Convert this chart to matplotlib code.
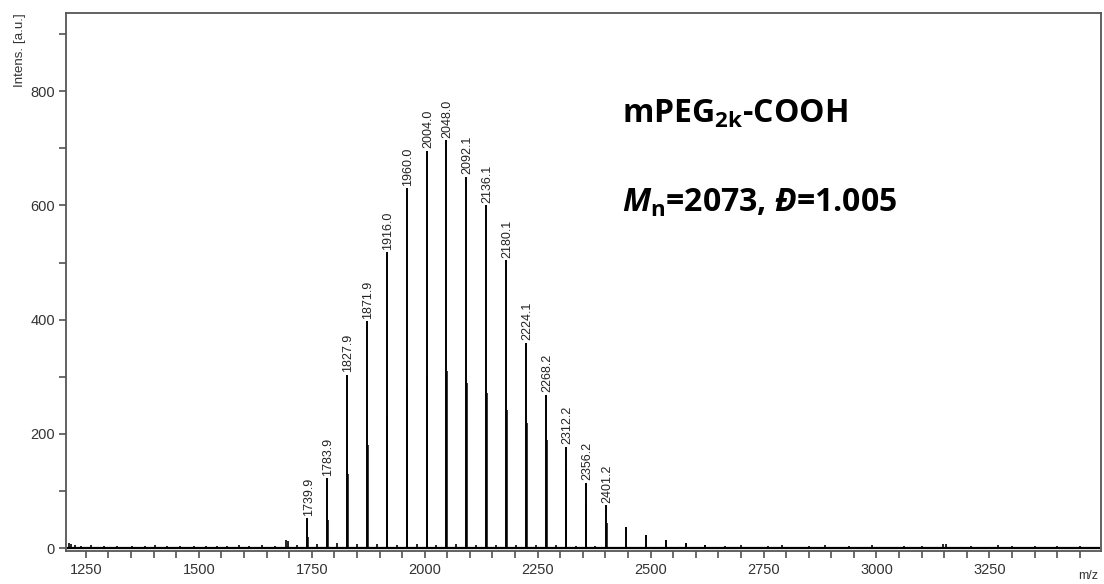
import matplotlib
matplotlib.use("Agg")
import matplotlib.pyplot as plt
from matplotlib.ticker import MultipleLocator

# ---- data ----
peak_mz = [1739.9, 1783.9, 1827.9, 1871.9, 1916.0, 1960.0, 2004.0, 2048.0,
           2092.1, 2136.1, 2180.1, 2224.1, 2268.2, 2312.2, 2356.2, 2401.2]
peak_int = [52, 122, 303, 397, 518, 630, 695, 714,
            650, 600, 504, 359, 268, 177, 114, 75]
peak_labels = ["1739.9", "1783.9", "1827.9", "1871.9", "1916.0", "1960.0", "2004.0", "2048.0",
               "2092.1", "2136.1", "2180.1", "2224.1", "2268.2", "2312.2", "2356.2", "2401.2"]

# secondary (adduct / isotope) peaks just right of each labelled peak
sec_mz = [1741.5, 1785.5, 1829.5, 1873.5, 1917.6, 1961.6, 2005.6, 2049.6,
          2093.7, 2137.7, 2181.7, 2225.7, 2269.8, 2313.8, 2357.8, 2402.8]
sec_int = [20, 50, 130, 180, 230, 280, 300, 310,
           290, 271, 242, 219, 190, 137, 75, 44]

# unlabelled tail peaks
tail_mz = [2445.2, 2489.2, 2533.3, 2577.3, 2621.3]
tail_int = [37, 23, 15, 9, 5]

# baseline noise spikes
noise_mz = [1212, 1218, 1225, 1240, 1262, 1290, 1318, 1352, 1380, 1402, 1430, 1458,
            1490, 1515, 1540, 1562, 1590, 1612, 1640, 1668, 1694, 1698, 1718, 1762,
            1806, 1850, 1894, 1938, 1982, 2026, 2070, 2114, 2158, 2202, 2246, 2290,
            2334, 2378, 2665, 2700, 2760, 2790, 2850, 2885, 2940, 2990, 3060, 3100,
            3148, 3155, 3210, 3270, 3300, 3350, 3400, 3450]
noise_int = [9, 7, 6, 4, 5, 4, 3, 4, 3, 6, 3, 4,
             3, 4, 3, 4, 5, 4, 5, 4, 15, 12, 5, 8,
             9, 7, 8, 6, 7, 6, 7, 6, 6, 5, 5, 5,
             4, 4, 4, 5, 4, 5, 4, 6, 4, 5, 4, 4,
             8, 7, 4, 5, 4, 4, 4, 4]

x_min, x_max = 1206, 3497
y_min, y_max = -5, 937

# ---- figure ----
plt.rcParams['font.family'] = ['Liberation Sans', 'DejaVu Sans']
plt.rcParams['mathtext.fontset'] = 'custom'
plt.rcParams['mathtext.rm'] = 'Open Sans:bold'
plt.rcParams['mathtext.bf'] = 'Open Sans:bold'
plt.rcParams['mathtext.it'] = 'Open Sans:italic:bold'

fig = plt.figure(figsize=(11.04, 5.84), dpi=100)
ax = fig.add_axes([66/1104, 33/584, (1101-66)/1104, (551-13)/584])

line_col = 'black'
ax.hlines(0, x_min + 2, x_max - 2, color=line_col, lw=1.6, zorder=3)
ax.vlines(noise_mz, 0, noise_int, color=line_col, lw=1.2, zorder=3)
ax.vlines(sec_mz, 0, sec_int, color=line_col, lw=1.1, zorder=3)
ax.vlines(tail_mz, 0, tail_int, color=line_col, lw=1.4, zorder=3)
ax.vlines(peak_mz, 0, peak_int, color=line_col, lw=1.4, zorder=4)

for mz, h, lab in zip(peak_mz, peak_int, peak_labels):
    ax.annotate(lab, (mz, h), xytext=(1, 2), textcoords='offset points',
                rotation=90, ha='center', va='bottom', fontsize=9, color='#222222')

ax.set_xlim(x_min, x_max)
ax.set_ylim(y_min, y_max)
ax.xaxis.set_major_locator(MultipleLocator(250))
ax.xaxis.set_minor_locator(MultipleLocator(50))
ax.yaxis.set_major_locator(MultipleLocator(200))
ax.yaxis.set_minor_locator(MultipleLocator(100))
ax.tick_params(which='both', direction='out', length=5, width=1.1, color='#444444',
               labelsize=10.5, labelcolor='#333333', pad=4)
ax.tick_params(axis='y', which='both', pad=3)
ax.tick_params(top=False, right=False)
for sp in ax.spines.values():
    sp.set_color('#555555')
    sp.set_linewidth(1.3)

fig.text(20/1104, 1 - 13/584, 'Intens. [a.u.]', rotation=90, ha='center', va='top',
         fontsize=9.6, color='#333333')
fig.text(1088/1104, 1 - 576/584, 'm/z', ha='center', va='center',
         fontsize=9, color='#333333')

ax.text(0.537, 0.797, r'mPEG$_{\mathbf{2k}}$-COOH', transform=ax.transAxes,
        fontsize=23, fontweight='bold', family=['Open Sans', 'DejaVu Sans'],
        ha='left', va='baseline')
ax.text(0.537, 0.630, r'$\mathit{M}_{\mathbf{n}}$=2073, $\mathit{Đ}$=1.005', transform=ax.transAxes,
        fontsize=23, fontweight='bold', family=['Open Sans', 'DejaVu Sans'],
        ha='left', va='baseline')

fig.savefig('out.png', dpi=100, facecolor='white')
